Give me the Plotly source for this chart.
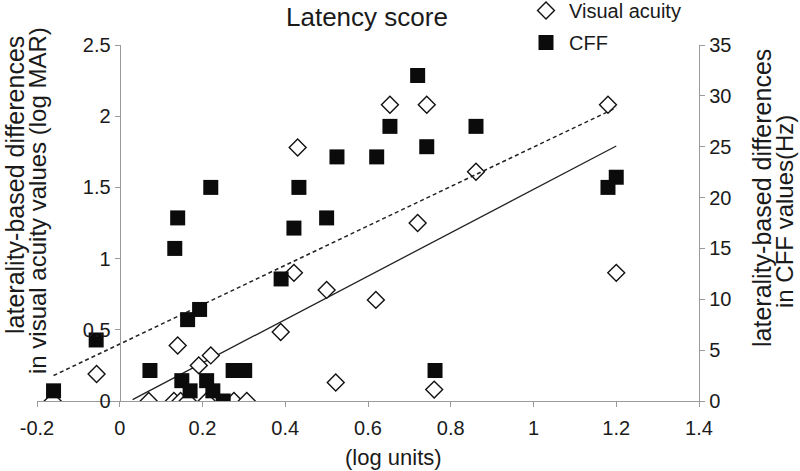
import plotly.graph_objects as go

# ---- data ----
va_x = [-0.162, -0.056, 0.070, 0.131, 0.140, 0.147, 0.164, 0.191, 0.210, 0.220,
        0.276, 0.307, 0.389, 0.421, 0.430, 0.500, 0.522, 0.619, 0.653, 0.720,
        0.742, 0.760, 0.861, 1.180, 1.200]
va_y = [0.00, 0.19, 0.00, 0.00, 0.39, 0.00, 0.00, 0.25, 0.00, 0.32,
        0.00, 0.00, 0.485, 0.90, 1.78, 0.78, 0.13, 0.71, 2.08, 1.25,
        2.08, 0.08, 1.61, 2.08, 0.90]

cff_x = [-0.160, -0.057, 0.073, 0.133, 0.140, 0.150, 0.164, 0.170, 0.193, 0.210,
         0.220, 0.225, 0.250, 0.274, 0.302, 0.390, 0.421, 0.433, 0.500, 0.525,
         0.621, 0.653, 0.720, 0.742, 0.762, 0.861, 1.180, 1.200]
cff_y = [1, 6, 3, 15, 18, 2, 8, 1, 9, 2,
         21, 1, 0, 3, 3, 12, 17, 21, 18, 24,
         24, 27, 32, 25, 3, 27, 21, 22]

# linear trend lines (slope, intercept, x-range)
va_trend_slope, va_trend_icpt, va_trend_range = 1.523, -0.037, [0.031, 1.20]
cff_trend_slope, cff_trend_icpt, cff_trend_range = 19.36, 5.6, [-0.16, 1.20]

x_ticks = [-0.2, 0, 0.2, 0.4, 0.6, 0.8, 1, 1.2, 1.4]
x_tick_labels = ["-0.2", "0", "0.2", "0.4", "0.6", "0.8", "1", "1.2", "1.4"]
y_ticks = [0, 0.5, 1, 1.5, 2, 2.5]
y_tick_labels = ["0", "0.5", "1", "1.5", "2", "2.5"]
y2_ticks = [0, 5, 10, 15, 20, 25, 30, 35]

# ---- layout helpers (pixel -> paper) ----
W, H = 800, 471
L, R, T, B = 37, 699, 45, 401
def px(x): return (x - L) / (R - L)
def py(y): return (B - y) / (B - T)

FONT = "Liberation Sans, Arial, sans-serif"
AXC = "#9a9a9a"
TXT = "#1a1a1a"

fig = go.Figure()

fig.add_trace(go.Scatter(
    x=va_trend_range,
    y=[va_trend_icpt + va_trend_slope * v for v in va_trend_range],
    mode="lines", line=dict(color="#222", width=1.3), showlegend=False,
    hoverinfo="skip", yaxis="y"))

fig.add_trace(go.Scatter(
    x=va_x, y=va_y, mode="markers", name="Visual acuity",
    marker=dict(symbol="diamond", size=13, color="white",
                line=dict(color="#111", width=1.4)),
    yaxis="y", legendgroup="a"))

fig.add_trace(go.Scatter(
    x=cff_trend_range,
    y=[cff_trend_icpt + cff_trend_slope * v for v in cff_trend_range],
    mode="lines", line=dict(color="#222", width=1.5, dash="4px,3px"),
    showlegend=False, hoverinfo="skip", yaxis="y2"))

fig.add_trace(go.Scatter(
    x=cff_x, y=cff_y, mode="markers", name="CFF",
    marker=dict(symbol="square", size=15, color="#0b0b0b",
                line=dict(color="#0b0b0b", width=0)),
    yaxis="y2", legendgroup="b"))

fig.update_layout(
    width=W, height=H,
    margin=dict(l=L, r=W - R, t=T, b=H - B, autoexpand=False),
    paper_bgcolor="white", plot_bgcolor="white",
    font=dict(family=FONT, color=TXT, size=20),
    showlegend=True,
    legend=dict(x=px(523), y=py(-9), xanchor="left", yanchor="top",
                bgcolor="rgba(0,0,0,0)", font=dict(size=20, color=TXT),
                tracegroupgap=3, itemwidth=36),
    xaxis=dict(range=[-0.2, 1.4], tickvals=x_ticks, ticktext=x_tick_labels,
               showgrid=False, zeroline=False, showline=True, linecolor=AXC,
               linewidth=1.3, ticks="outside", ticklen=5, tickcolor=AXC,
               tickfont=dict(size=20, color=TXT), ticklabelstandoff=4,
               domain=[0, 1], automargin=False),
    yaxis=dict(range=[0, 2.5], tickvals=y_ticks, ticktext=y_tick_labels,
               showgrid=False, zeroline=False, showline=True, linecolor=AXC,
               linewidth=1.3, ticks="outside", ticklen=5, tickcolor=AXC,
               tickfont=dict(size=20, color=TXT), automargin=False,
               anchor="free", position=0.125),
    yaxis2=dict(range=[0, 35], tickvals=y2_ticks, overlaying="y", side="right",
                anchor="x", showgrid=False, zeroline=False, showline=True,
                linecolor=AXC, linewidth=1.3, ticks="outside", ticklen=5,
                tickcolor=AXC, tickfont=dict(size=20, color=TXT),
                automargin=False),
)

ann = [
    dict(text="Latency score", x=px(367), y=py(17), font=dict(size=26)),
    dict(text="(log units)", x=px(393), y=py(457), font=dict(size=22)),
    dict(text="laterality-based differences", x=px(15), y=py(185),
         textangle=-90, font=dict(size=25)),
    dict(text="in visual acuity values (log MAR)", x=px(37), y=py(201),
         textangle=-90, font=dict(size=24)),
    dict(text="laterality-based differences", x=px(762), y=py(198),
         textangle=-90, font=dict(size=25)),
    dict(text="in CFF values(Hz)", x=px(784), y=py(212),
         textangle=-90, font=dict(size=24)),
]
for a in ann:
    fig.add_annotation(xref="paper", yref="paper", showarrow=False,
                       xanchor="center", yanchor="middle", borderpad=0, **a)

fig.write_html(
    "out.html",
    config={"displayModeBar": False},
    post_script="document.body.style.margin='0';document.body.style.padding='0';",
)
